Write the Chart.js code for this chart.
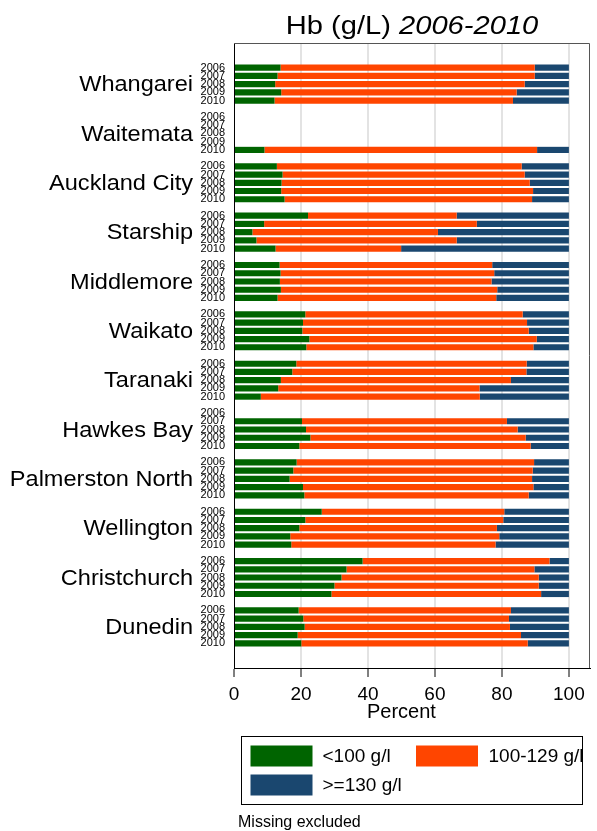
<!DOCTYPE html>
<html>
<head>
<meta charset="utf-8">
<script src="https://cdn.jsdelivr.net/npm/chart.js@4.4.1/dist/chart.umd.min.js"></script>
<style>
  html, body { margin: 0; padding: 0; background: #fff; }
  #wrap { width: 597px; height: 831px; position: relative; }
</style>
</head>
<body>
<div id="wrap"><canvas id="hbChart"></canvas></div>
<script>
// hospitals and years
var hospitals = ["Whangarei", "Waitemata", "Auckland City", "Starship", "Middlemore", "Waikato",
  "Taranaki", "Hawkes Bay", "Palmerston North", "Wellington", "Christchurch", "Dunedin"];
var years = ["2006", "2007", "2008", "2009", "2010"];
var xTicks = [0, 20, 40, 60, 80, 100];

// percent <100 g/l, per hospital, 2006..2010 (null = no data)
var lowHb = [
  [13.9, 13.0, 12.3, 14.1, 12.1],
  [null, null, null, null, 9.1],
  [12.8, 14.5, 14.2, 14.1, 15.1],
  [22.1, 9.0, 5.5, 6.7, 12.4],
  [13.6, 13.9, 13.7, 14.0, 13.0],
  [21.3, 20.6, 20.4, 22.5, 21.6],
  [18.6, 17.4, 14.0, 13.2, 8.0],
  [null, 20.3, 21.5, 22.8, 19.5],
  [18.7, 17.7, 16.6, 20.6, 21.0],
  [26.2, 21.3, 19.5, 16.8, 17.1],
  [38.4, 33.6, 32.1, 30.0, 29.1],
  [19.3, 20.7, 21.1, 19.0, 20.1]
];
// percent 100-129 g/l
var midHb = [
  [75.9, 76.8, 74.5, 70.3, 71.2],
  [null, null, null, null, 81.4],
  [73.1, 72.3, 74.1, 75.2, 73.9],
  [44.4, 63.5, 55.4, 59.8, 37.5],
  [63.5, 63.8, 63.2, 64.6, 65.3],
  [64.9, 66.9, 67.6, 67.9, 67.8],
  [68.8, 69.9, 68.7, 60.1, 65.4],
  [null, 61.2, 63.2, 64.3, 69.1],
  [70.9, 71.5, 72.4, 68.8, 67.0],
  [54.5, 59.1, 59.0, 62.4, 61.0],
  [55.8, 56.1, 58.9, 61.0, 62.6],
  [63.4, 61.4, 61.3, 66.7, 67.6]
];
// percent >=130 g/l
var highHb = [
  [10.2, 10.2, 13.2, 15.6, 16.7],
  [null, null, null, null, 9.5],
  [14.1, 13.2, 11.7, 10.7, 11.0],
  [33.5, 27.5, 39.1, 33.5, 50.1],
  [22.9, 22.3, 23.1, 21.4, 21.7],
  [13.8, 12.5, 12.0, 9.6, 10.6],
  [12.6, 12.7, 17.3, 26.7, 26.6],
  [null, 18.5, 15.3, 12.9, 11.4],
  [10.4, 10.8, 11.0, 10.6, 12.0],
  [19.3, 19.6, 21.5, 20.8, 21.9],
  [5.8, 10.3, 9.0, 9.0, 8.3],
  [17.3, 17.9, 17.6, 14.3, 12.3]
];

// build the category rows: padding, 5 years per hospital, blank row between groups
var PAD = 3;
var yLabels = [];
var groupMid = [];
function pad(n) { for (var k = 0; k < n; k++) yLabels.push(""); }
pad(PAD);
for (var h = 0; h < hospitals.length; h++) {
  if (h > 0) pad(1);
  groupMid.push(yLabels.length + 2);
  for (var j = 0; j < years.length; j++) yLabels.push(years[j]);
}
pad(PAD);

function flatten(arr) {
  var out = [];
  for (var k = 0; k < PAD; k++) out.push(null);
  for (var h = 0; h < arr.length; h++) {
    if (h > 0) out.push(null);
    for (var j = 0; j < arr[h].length; j++) out.push(arr[h][j]);
  }
  for (var k = 0; k < PAD; k++) out.push(null);
  return out;
}

var FONT = "'Liberation Sans', Arial, Helvetica, sans-serif";
Chart.defaults.font.family = FONT;
Chart.defaults.color = "#000";

function stretchText(ctx, txt, x, y, sx, align) {
  ctx.save();
  ctx.translate(x, y);
  ctx.scale(sx, 1);
  ctx.textAlign = align;
  ctx.fillText(txt, 0, 0);
  ctx.restore();
}

function onTick(c) {
  return c.tick && xTicks.indexOf(c.tick.value) >= 0;
}

var extras = {
  id: "extras",
  afterDraw: function(chart) {
    var ctx = chart.ctx;
    var a = chart.chartArea;
    var ys = chart.scales.y;

    // top and right frame, kept inside the plot area
    ctx.save();
    ctx.beginPath();
    ctx.rect(a.left, a.top, a.right - a.left, a.bottom - a.top);
    ctx.clip();
    ctx.strokeStyle = "#555";
    ctx.lineWidth = 1;
    ctx.beginPath();
    ctx.moveTo(a.left, a.top + 0.5);
    ctx.lineTo(a.right - 0.5, a.top + 0.5);
    ctx.lineTo(a.right - 0.5, a.bottom);
    ctx.stroke();
    ctx.restore();

    ctx.save();
    ctx.fillStyle = "#000";
    // title
    var cx = (a.left + a.right) / 2;
    var sx = 1.12;
    ctx.textBaseline = "alphabetic";
    ctx.font = "26px " + FONT;
    var p1 = "Hb (g/L) ";
    var w1 = ctx.measureText(p1).width;
    ctx.font = "italic 26px " + FONT;
    var p2 = "2006-2010";
    var w2 = ctx.measureText(p2).width;
    var x0 = cx - (w1 + w2) * sx / 2;
    ctx.font = "26px " + FONT;
    stretchText(ctx, p1, x0, 33.5, sx, "left");
    ctx.font = "italic 26px " + FONT;
    stretchText(ctx, p2, x0 + w1 * sx, 33.5, sx, "left");

    // hospital names
    ctx.font = "22px " + FONT;
    ctx.textBaseline = "middle";
    for (var h = 0; h < hospitals.length; h++) {
      var y = ys.getPixelForValue(groupMid[h]);
      stretchText(ctx, hospitals[h], 193, y + 1, 1.07, "right");
    }

    // x axis title
    ctx.font = "20px " + FONT;
    ctx.textAlign = "center";
    ctx.fillText("Percent", chart.scales.x.getPixelForValue(50), 712.5);

    // legend
    ctx.strokeStyle = "#000";
    ctx.lineWidth = 1;
    ctx.strokeRect(241.5, 736.5, 341, 68);
    var ds = chart.data.datasets;
    var pos = [[250.5, 745.5, 322.5], [416, 745.5, 488.5], [250.5, 774.5, 322.5]];
    ctx.font = "19px " + FONT;
    ctx.textAlign = "left";
    for (var i = 0; i < ds.length; i++) {
      ctx.fillStyle = ds[i].backgroundColor;
      ctx.fillRect(pos[i][0], pos[i][1], 62, 21);
      ctx.fillStyle = "#000";
      ctx.fillText(ds[i].label, pos[i][2], pos[i][1] + 11);
    }

    // note
    ctx.font = "16px " + FONT;
    ctx.fillText("Missing excluded", 238, 822.5);
    ctx.restore();
  }
};

new Chart(document.getElementById("hbChart"), {
  type: "bar",
  data: {
    labels: yLabels,
    datasets: [
      { label: "<100 g/l", data: flatten(lowHb), backgroundColor: "#006400" },
      { label: "100-129 g/l", data: flatten(midHb), backgroundColor: "#ff4500" },
      { label: ">=130 g/l", data: flatten(highHb), backgroundColor: "#1a476f" }
    ]
  },
  options: {
    indexAxis: "y",
    responsive: true,
    maintainAspectRatio: false,
    animation: false,
    barPercentage: 0.75,
    categoryPercentage: 1.0,
    layout: { padding: { top: 43, right: 7, bottom: 0, left: 0 } },
    plugins: {
      legend: { display: false },
      title: { display: false },
      tooltip: { enabled: false }
    },
    scales: {
      x: {
        type: "linear",
        stacked: true,
        min: 0,
        max: 106.3,
        afterBuildTicks: function(scale) {
          scale.ticks = xTicks.map(function(v) { return { value: v }; });
        },
        afterFit: function(scale) { scale.height = 163; },
        grid: {
          color: function(c) {
            if (!onTick(c) || c.tick.value === 0) return "rgba(0,0,0,0)";
            return "#e3e3e3";
          },
          lineWidth: 2,
          tickColor: function(c) { return onTick(c) ? "#000" : "rgba(0,0,0,0)"; },
          tickWidth: 1,
          tickLength: 9
        },
        border: { color: "#000", width: 1 },
        ticks: { font: { size: 19 }, padding: 6, color: "#000", maxRotation: 0 }
      },
      y: {
        type: "category",
        stacked: true,
        offset: false,
        afterFit: function(scale) { scale.width = 234; },
        grid: { display: false, drawTicks: false },
        border: { color: "#000", width: 1 },
        ticks: { autoSkip: false, font: { size: 11 }, padding: 9, color: "#000" }
      }
    }
  },
  plugins: [extras]
});
</script>
</body>
</html>
